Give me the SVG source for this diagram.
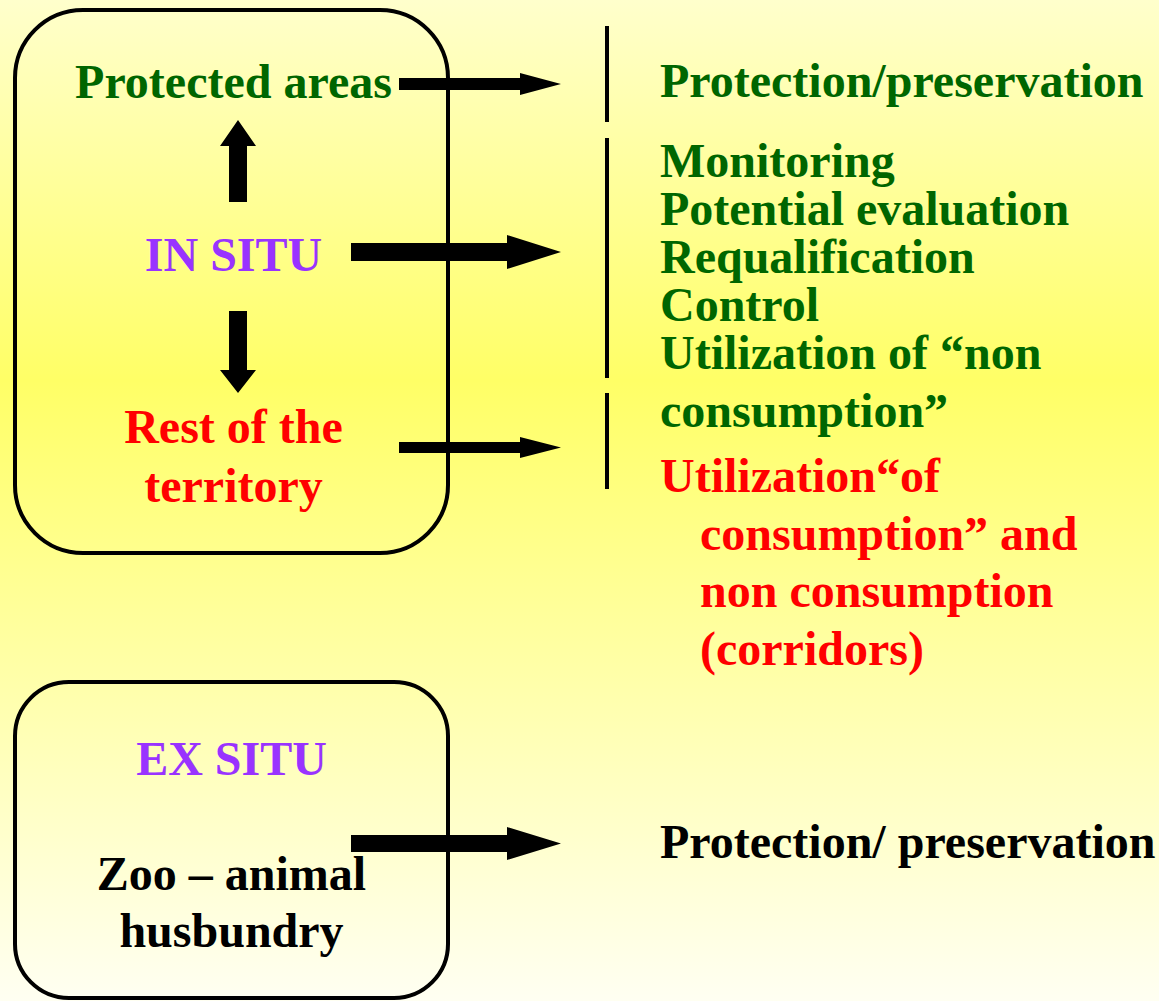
<svg xmlns="http://www.w3.org/2000/svg" width="1159" height="1001" viewBox="0 0 1159 1001">
  <defs>
    <linearGradient id="bg" x1="0" y1="0" x2="0" y2="1">
      <stop offset="0" stop-color="#FFFFCC"/>
      <stop offset="0.38" stop-color="#FFFF66"/>
      <stop offset="1" stop-color="#FFFFF2"/>
    </linearGradient>
    <style>
      text { font-family: "Liberation Serif", "Times New Roman", serif; font-weight: bold; font-size: 48px; }
      .mid { text-anchor: middle; }
      .green { fill: #006600; }
      .red { fill: #FF0000; }
      .purple { fill: #9933FF; }
      .black { fill: #000000; }
      .box { fill: none; stroke: #000; stroke-width: 4; }
      .bar { stroke: #000; stroke-width: 4; }
      .arrow { fill: #000; }
    </style>
  </defs>

  <rect x="0" y="0" width="1159" height="1001" fill="url(#bg)"/>

  <!-- In situ block -->
  <g id="in-situ">
    <rect class="box" x="15" y="10" width="433" height="543" rx="68" ry="68"/>
    <text class="mid green" x="233.5" y="98">Protected areas</text>
    <text class="mid purple" x="233.5" y="271">IN SITU</text>
    <text class="mid red" x="233.5" y="443">Rest of the</text>
    <text class="mid red" x="233.5" y="502">territory</text>
  </g>

  <!-- Ex situ block -->
  <g id="ex-situ">
    <rect class="box" x="15" y="682" width="433" height="316" rx="54" ry="54"/>
    <text class="mid purple" x="231.5" y="775">EX SITU</text>
    <text class="mid black" x="231.5" y="890">Zoo – animal</text>
    <text class="mid black" x="231.5" y="947">husbundry</text>
  </g>

  <!-- Outcomes of protected areas -->
  <g id="protected-outcome">
    <line class="bar" x1="607" y1="26" x2="607" y2="122"/>
    <text class="green" x="660" y="97">Protection/preservation</text>
  </g>

  <!-- Outcomes of in situ management -->
  <g id="in-situ-outcome">
    <line class="bar" x1="607" y1="138" x2="607" y2="378"/>
    <text class="green" x="660" y="177">Monitoring</text>
    <text class="green" x="660" y="225">Potential evaluation</text>
    <text class="green" x="660" y="273">Requalification</text>
    <text class="green" x="660" y="321">Control</text>
    <text class="green" x="660" y="369">Utilization of “non</text>
    <text class="green" x="660" y="427">consumption”</text>
  </g>

  <!-- Outcomes of the rest of the territory -->
  <g id="territory-outcome">
    <line class="bar" x1="607" y1="393" x2="607" y2="489"/>
    <text class="red" x="660" y="492">Utilization“of</text>
    <text class="red" x="700" y="550">consumption” and</text>
    <text class="red" x="700" y="607">non consumption</text>
    <text class="red" x="700" y="665">(corridors)</text>
  </g>

  <!-- Outcome of ex situ -->
  <g id="ex-situ-outcome">
    <text class="black" x="660" y="858">Protection/ preservation</text>
  </g>

  <!-- Connectors -->
  <g id="connectors">
    <!-- IN SITU up to protected areas -->
    <polygon class="arrow" points="229,202 247,202 247,146 256,146 238,120 220,146 229,146"/>
    <!-- IN SITU down to rest of the territory -->
    <polygon class="arrow" points="229,311 247,311 247,370 256,370 238,393 220,370 229,370"/>
    <!-- protected areas -> protection -->
    <polygon class="arrow" points="399,78 520,78 520,73 561,84 520,95 520,90 399,90"/>
    <!-- in situ -> management list -->
    <polygon class="arrow" points="351,243 507,243 507,235 561,252 507,269 507,261 351,261"/>
    <!-- rest of the territory -> utilization -->
    <polygon class="arrow" points="399,442 520,442 520,437 561,447.5 520,458 520,453 399,453"/>
    <!-- ex situ -> protection -->
    <polygon class="arrow" points="351,835 507,835 507,827 561,843.5 507,860 507,852 351,852"/>
  </g>
</svg>
